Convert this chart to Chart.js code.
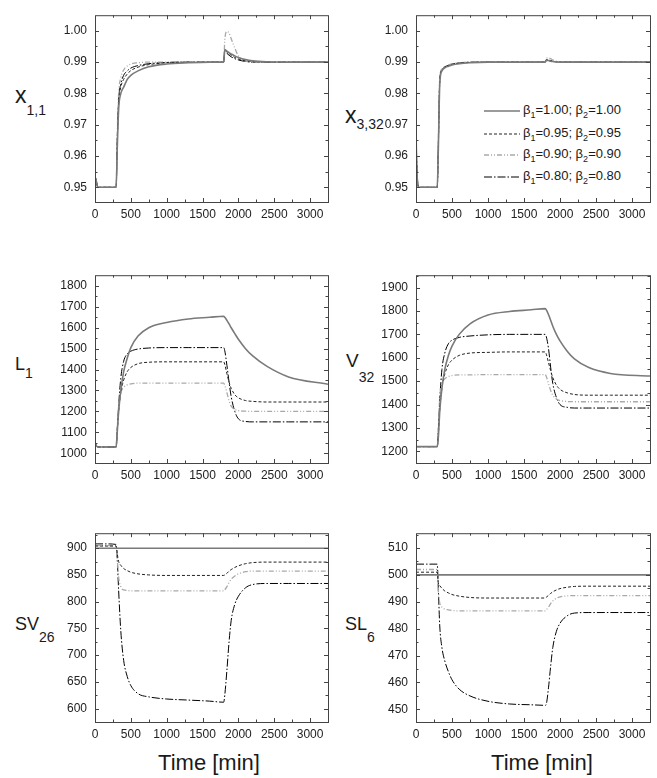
<!DOCTYPE html>
<html>
<head>
<meta charset="utf-8">
<title>Responses for different beta values</title>
<script src="https://cdn.jsdelivr.net/npm/chart.js@4.4.1/dist/chart.umd.min.js"></script>
<style>
    html, body { margin: 0; padding: 0; background: #fff; }
    body {
        width: 657px; height: 778px; position: relative; overflow: hidden;
        font-family: Arial, "Liberation Sans", sans-serif; color: #1a1a1a;
    }
    canvas { position: absolute; }
    .ylab { position: absolute; line-height: 1; white-space: nowrap; font-size: 18px; }
    .ylab .sub { position: relative; font-size: 14px; }
    .xlab { position: absolute; line-height: 1; font-size: 22px; white-space: nowrap; transform: translateX(-50%); }
    .leg-row { position: absolute; left: 484px; height: 16px; display: flex; align-items: center; font-size: 13px; white-space: nowrap; }
    .leg-row svg { margin-right: 3px; }
    .leg-row sub { font-size: 9px; vertical-align: -4px; }
</style>
</head>
<body>

<div class="ylab" style="left:15px; top:84px; font-size:23px">x<span class="sub" style="top:12px">1,1</span></div>
<div class="ylab" style="left:345px; top:104px; font-size:23px">x<span class="sub" style="top:6px">3,32</span></div>
<div class="ylab" style="left:15px; top:355px">L<span class="sub" style="top:8px">1</span></div>
<div class="ylab" style="left:346px; top:351px; font-size:19px">V<span class="sub" style="top:15px">32</span></div>
<div class="ylab" style="left:15px; top:615px">SV<span class="sub" style="top:12px">26</span></div>
<div class="ylab" style="left:345px; top:615px">SL<span class="sub" style="top:12px">6</span></div>

<div class="xlab" style="left:209px; top:752px">Time [min]</div>
<div class="xlab" style="left:542px; top:752px">Time [min]</div>

<div id="legend"></div>

<script>
// ── Data ──────────────────────────────────────────────────────────────────
const timeMin = [0, 5, 40, 150, 295, 310, 330, 360, 400, 450, 500, 600, 750, 1000,
                 1300, 1600, 1795, 1810, 1840, 1870, 1900, 1950, 2000, 2100, 2200, 2400, 2700, 3250];

const beta1 = [1.00, 0.95, 0.90, 0.80];
const beta2 = [1.00, 0.95, 0.90, 0.80];

// tick labels
const xTicks    = [0, 500, 1000, 1500, 2000, 2500, 3000];
const x11Ticks  = [0.95, 0.96, 0.97, 0.98, 0.99, 1.00];
const x332Ticks = [0.95, 0.96, 0.97, 0.98, 0.99, 1.00];
const l1Ticks   = [1000, 1100, 1200, 1300, 1400, 1500, 1600, 1700, 1800];
const v32Ticks  = [1200, 1300, 1400, 1500, 1600, 1700, 1800, 1900];
const sv26Ticks = [600, 650, 700, 750, 800, 850, 900];
const sl6Ticks  = [450, 460, 470, 480, 490, 500, 510];

// x_{1,1}
const x11_b100 = [0.945, 0.953, 0.950, 0.950, 0.950, 0.962, 0.975, 0.980, 0.982, 0.9845, 0.9858, 0.9872, 0.9885, 0.9894,
                  0.9898, 0.990, 0.990, 0.9940, 0.9935, 0.9930, 0.9926, 0.9920, 0.9915, 0.9908, 0.9904, 0.9901, 0.990, 0.990];
const x11_b095 = [0.945, 0.953, 0.950, 0.950, 0.950, 0.964, 0.977, 0.982, 0.9845, 0.9862, 0.9873, 0.9884, 0.9892, 0.9898,
                  0.990, 0.990, 0.990, 0.9938, 0.9932, 0.9927, 0.9922, 0.9915, 0.9910, 0.9904, 0.9902, 0.990, 0.990, 0.990];
const x11_b090 = [0.945, 0.953, 0.950, 0.950, 0.950, 0.967, 0.980, 0.985, 0.9875, 0.9888, 0.9894, 0.9898, 0.990, 0.990,
                  0.990, 0.990, 0.990, 0.9970, 0.9998, 0.9993, 0.9975, 0.9945, 0.9920, 0.9903, 0.990, 0.990, 0.990, 0.990];
const x11_b080 = [0.945, 0.953, 0.950, 0.950, 0.950, 0.965, 0.978, 0.983, 0.9858, 0.9872, 0.9881, 0.9889, 0.9895, 0.9899,
                  0.990, 0.990, 0.990, 0.9936, 0.9928, 0.9922, 0.9917, 0.9911, 0.9907, 0.9902, 0.990, 0.990, 0.990, 0.990];

// x_{3,32}
const x332_b100 = [0.970, 0.962, 0.950, 0.950, 0.950, 0.962, 0.983, 0.9872, 0.9882, 0.9887, 0.9891, 0.9895, 0.9898, 0.990,
                   0.990, 0.990, 0.990, 0.9906, 0.9905, 0.9903, 0.9902, 0.9901, 0.990, 0.990, 0.990, 0.990, 0.990, 0.990];
const x332_b095 = [0.970, 0.962, 0.950, 0.950, 0.950, 0.963, 0.984, 0.9875, 0.9884, 0.9889, 0.9893, 0.9897, 0.9899, 0.990,
                   0.990, 0.990, 0.990, 0.9908, 0.9907, 0.9905, 0.9903, 0.9901, 0.990, 0.990, 0.990, 0.990, 0.990, 0.990];
const x332_b090 = [0.970, 0.962, 0.950, 0.950, 0.950, 0.964, 0.985, 0.9878, 0.9886, 0.9891, 0.9895, 0.9898, 0.990, 0.990,
                   0.990, 0.990, 0.990, 0.9912, 0.9914, 0.9911, 0.9907, 0.9903, 0.9901, 0.990, 0.990, 0.990, 0.990, 0.990];
const x332_b080 = [0.970, 0.962, 0.950, 0.950, 0.950, 0.963, 0.984, 0.9876, 0.9885, 0.989, 0.9894, 0.9897, 0.990, 0.990,
                   0.990, 0.990, 0.990, 0.9907, 0.9906, 0.9904, 0.9902, 0.9901, 0.990, 0.990, 0.990, 0.990, 0.990, 0.990];

// L_1
const l1_b100 = [1050, 1045, 1030, 1030, 1030, 1100, 1200, 1300, 1390, 1455, 1505, 1560, 1600, 1625,
                 1642, 1650, 1655, 1650, 1635, 1618, 1600, 1572, 1545, 1500, 1465, 1415, 1365, 1330];
const l1_b095 = [1050, 1045, 1030, 1030, 1030, 1100, 1200, 1290, 1350, 1390, 1410, 1428, 1435, 1437,
                 1437, 1437, 1437, 1425, 1380, 1340, 1310, 1280, 1265, 1252, 1248, 1245, 1245, 1245];
const l1_b090 = [1050, 1045, 1030, 1030, 1030, 1120, 1230, 1290, 1315, 1327, 1332, 1335, 1335, 1335,
                 1335, 1335, 1335, 1325, 1290, 1250, 1225, 1210, 1204, 1201, 1200, 1200, 1200, 1200];
const l1_b080 = [1050, 1045, 1030, 1030, 1030, 1110, 1230, 1360, 1440, 1475, 1488, 1498, 1503, 1505,
                 1505, 1505, 1505, 1490, 1420, 1340, 1270, 1200, 1165, 1152, 1150, 1150, 1150, 1150];

// V_32
const v32_b100 = [1205, 1220, 1220, 1220, 1220, 1260, 1370, 1470, 1550, 1610, 1650, 1700, 1745, 1783,
                  1798, 1805, 1810, 1805, 1785, 1760, 1735, 1700, 1672, 1628, 1595, 1558, 1533, 1522];
const v32_b095 = [1205, 1220, 1220, 1220, 1220, 1270, 1380, 1470, 1530, 1570, 1590, 1610, 1620, 1623,
                  1625, 1625, 1625, 1615, 1580, 1545, 1515, 1483, 1465, 1450, 1443, 1440, 1440, 1440];
const v32_b090 = [1205, 1220, 1220, 1220, 1220, 1300, 1430, 1490, 1510, 1520, 1524, 1527, 1527, 1528,
                  1528, 1528, 1528, 1520, 1490, 1460, 1440, 1424, 1417, 1413, 1412, 1412, 1412, 1412];
const v32_b080 = [1205, 1220, 1220, 1220, 1220, 1290, 1420, 1550, 1620, 1660, 1675, 1687, 1693, 1698,
                  1700, 1700, 1700, 1690, 1640, 1560, 1490, 1430, 1400, 1388, 1385, 1385, 1385, 1385];

// SV_26
const sv26_b100 = [900, 900, 900, 900, 900, 900, 900, 900, 900, 900, 900, 900, 900, 900,
                   900, 900, 900, 900, 900, 900, 900, 900, 900, 900, 900, 900, 900, 900];
const sv26_b095 = [904, 904, 904, 904, 904, 890, 875, 868, 862, 858, 855, 852, 850, 849,
                   849, 849, 849, 850, 853, 857, 860, 864, 867, 871, 873, 874, 874, 874];
const sv26_b090 = [905, 905, 905, 905, 905, 880, 845, 828, 822, 821, 820, 820, 820, 820,
                   820, 820, 820, 822, 828, 836, 842, 848, 852, 856, 857, 857, 857, 857];
const sv26_b080 = [908, 908, 908, 908, 907, 880, 820, 745, 690, 660, 643, 628, 622, 618,
                   616, 614, 612, 625, 672, 725, 765, 795, 810, 826, 832, 834, 834, 834];

// SL_6
const sl6_b100 = [500, 500, 500, 500, 500, 500, 500, 500, 500, 500, 500, 500, 500, 500,
                  500, 500, 500, 500, 500, 500, 500, 500, 500, 500, 500, 500, 500, 500];
const sl6_b095 = [501, 501, 501, 501, 501, 497, 496, 495, 494, 493.3, 492.7, 492.1, 491.6, 491.4,
                  491.4, 491.4, 491.4, 491.7, 492.4, 493.1, 493.7, 494.4, 494.9, 495.4, 495.7, 495.8, 495.8, 495.8];
const sl6_b090 = [502, 502, 502, 502, 502, 494, 489.5, 488, 487.3, 487, 486.8, 486.6, 486.6, 486.6,
                  486.6, 486.6, 486.6, 487, 488, 489.3, 490.3, 491.3, 491.8, 492.2, 492.3, 492.3, 492.3, 492.3];
const sl6_b080 = [504, 504, 504, 504, 504, 495, 481, 473, 468, 464, 461, 457.5, 455, 453,
                  452, 451.7, 451.5, 452, 458, 466, 473, 479, 482, 484.8, 485.8, 486, 486, 486];

// ── Styles ────────────────────────────────────────────────────────────────
const FONT = 'Arial, "Liberation Sans", sans-serif';

const seriesStyles = [
    { color: '#7a7a7a', width: 1.6, dash: [] },
    { color: '#222222', width: 1.0, dash: [3, 2] },
    { color: '#a9a9a9', width: 1.3, dash: [5, 2, 1, 2, 1, 2] },
    { color: '#000000', width: 1.0, dash: [8, 2, 1.5, 2] },
];

const panels = [
    { left: 40,  top: 0,   areaH: 192, yMin: 0.9453, yMax: 1.005, ticks: x11Ticks,  dec: 2,
      series: [x11_b100, x11_b095, x11_b090, x11_b080] },
    { left: 361, top: 0,   areaH: 192, yMin: 0.9453, yMax: 1.005, ticks: x332Ticks, dec: 2,
      series: [x332_b100, x332_b095, x332_b090, x332_b080] },
    { left: 40,  top: 260, areaH: 193, yMin: 953.5,  yMax: 1851,  ticks: l1Ticks,   dec: 0,
      series: [l1_b100, l1_b095, l1_b090, l1_b080] },
    { left: 361, top: 260, areaH: 193, yMin: 1150,   yMax: 1953,  ticks: v32Ticks,  dec: 0,
      series: [v32_b100, v32_b095, v32_b090, v32_b080] },
    { left: 40,  top: 518, areaH: 194, yMin: 575,    yMax: 928,   ticks: sv26Ticks, dec: 0,
      series: [sv26_b100, sv26_b095, sv26_b090, sv26_b080] },
    { left: 361, top: 518, areaH: 194, yMin: 445.3,  yMax: 515.5, ticks: sl6Ticks,  dec: 0,
      series: [sl6_b100, sl6_b095, sl6_b090, sl6_b080] },
];

// ── Frame with inward major/minor ticks on all four sides ──────────────────
const frameTicks = {
    id: 'frameTicks',
    afterDatasetsDraw(chart, args, opts) {
        const { ctx, chartArea: a, scales } = chart;
        ctx.save();
        ctx.strokeStyle = '#444';
        ctx.lineWidth = 1;
        ctx.strokeRect(a.left + 0.5, a.top + 0.5, a.right - a.left, a.bottom - a.top);

        // majors at the tick values, minors half way between them
        const marks = (scale, step) => {
            const half = step / 2;
            const out = [];
            const k0 = Math.ceil(scale.min / half - 1e-6);
            const k1 = Math.floor(scale.max / half + 1e-6);
            for (let k = k0; k <= k1; k++) {
                const px = Math.round(scale.getPixelForValue(k * half)) + 0.5;
                out.push({ px, len: k % 2 === 0 ? 4 : 2.5 });
            }
            return out;
        };

        ctx.beginPath();
        marks(scales.x, opts.xStep).forEach(m => {
            if (m.px <= a.left + 1 || m.px >= a.right - 1) return;
            ctx.moveTo(m.px, a.bottom); ctx.lineTo(m.px, a.bottom - m.len);
            ctx.moveTo(m.px, a.top);    ctx.lineTo(m.px, a.top + m.len);
        });
        marks(scales.y, opts.yStep).forEach(m => {
            if (m.px <= a.top + 1 || m.px >= a.bottom - 1) return;
            ctx.moveTo(a.left, m.px);  ctx.lineTo(a.left + m.len, m.px);
            ctx.moveTo(a.right, m.px); ctx.lineTo(a.right - m.len, m.px);
        });
        ctx.stroke();
        ctx.restore();
    },
};

function seriesLabel(i) {
    return `β1=${beta1[i].toFixed(2)}; β2=${beta2[i].toFixed(2)}`;
}

// ── Chart initialisation ──────────────────────────────────────────────────
function makePanel(p) {
    const canvas = document.createElement('canvas');
    const width  = p.left === 40 ? 295 : 296;
    const height = 10 + p.areaH + 25;
    canvas.width  = width;
    canvas.height = height;
    canvas.style.left   = p.left + 'px';
    canvas.style.top    = p.top + 'px';
    canvas.style.width  = width + 'px';
    canvas.style.height = height + 'px';
    document.body.appendChild(canvas);

    const tickFont = { size: 12, family: FONT };
    const yStep = p.ticks[1] - p.ticks[0];

    new Chart(canvas, {
        type: 'line',
        data: {
            datasets: seriesStyles.map((st, i) => ({
                label:       seriesLabel(i),
                data:        timeMin.map((t, k) => ({ x: t, y: p.series[i][k] })),
                borderColor: st.color,
                borderWidth: st.width,
                borderDash:  st.dash,
                pointRadius: 0,
                fill:        false,
                cubicInterpolationMode: 'monotone',
            })),
        },
        options: {
            responsive: false,
            animation: false,
            devicePixelRatio: 1,
            layout: { padding: { top: 10, right: 7, left: 0, bottom: 0 } },
            plugins: {
                legend:  { display: false },
                tooltip: { enabled: false },
                frameTicks: { xStep: xTicks[1] - xTicks[0], yStep },
            },
            scales: {
                x: {
                    type: 'linear', min: 0, max: 3250,
                    afterBuildTicks: s => { s.ticks = xTicks.map(v => ({ value: v })); },
                    afterFit: s => { s.height = 25; },
                    grid:   { display: false, drawTicks: false },
                    border: { display: false },
                    ticks:  { padding: 5, color: '#222', font: tickFont, maxRotation: 0, autoSkip: false,
                              callback: v => String(v) },
                },
                y: {
                    type: 'linear', min: p.yMin, max: p.yMax,
                    afterBuildTicks: s => { s.ticks = p.ticks.map(v => ({ value: v })); },
                    afterFit: s => { s.width = 55; },
                    grid:   { display: false, drawTicks: false },
                    border: { display: false },
                    ticks:  { padding: 8, color: '#222', font: tickFont, autoSkip: false,
                              callback: v => Number(v).toFixed(p.dec) },
                },
            },
        },
        plugins: [frameTicks],
    });
}

// ── Legend (inside the x_{3,32} panel) ─────────────────────────────────────
function makeLegend() {
    const rowsY = [111, 134, 155, 177];
    const host = document.getElementById('legend');
    seriesStyles.forEach((st, i) => {
        const row = document.createElement('div');
        row.className = 'leg-row';
        row.style.top = (rowsY[i] - 8) + 'px';
        const dash = st.dash.length ? `stroke-dasharray="${st.dash.join(' ')}"` : '';
        row.innerHTML =
            `<svg width="36" height="6"><line x1="0" y1="3" x2="36" y2="3" stroke="${st.color}" ` +
            `stroke-width="${st.width}" ${dash}/></svg>` +
            `<span>β<sub>1</sub>=${beta1[i].toFixed(2)}; β<sub>2</sub>=${beta2[i].toFixed(2)}</span>`;
        host.appendChild(row);
    });
}

panels.forEach(makePanel);
makeLegend();
</script>
</body>
</html>
